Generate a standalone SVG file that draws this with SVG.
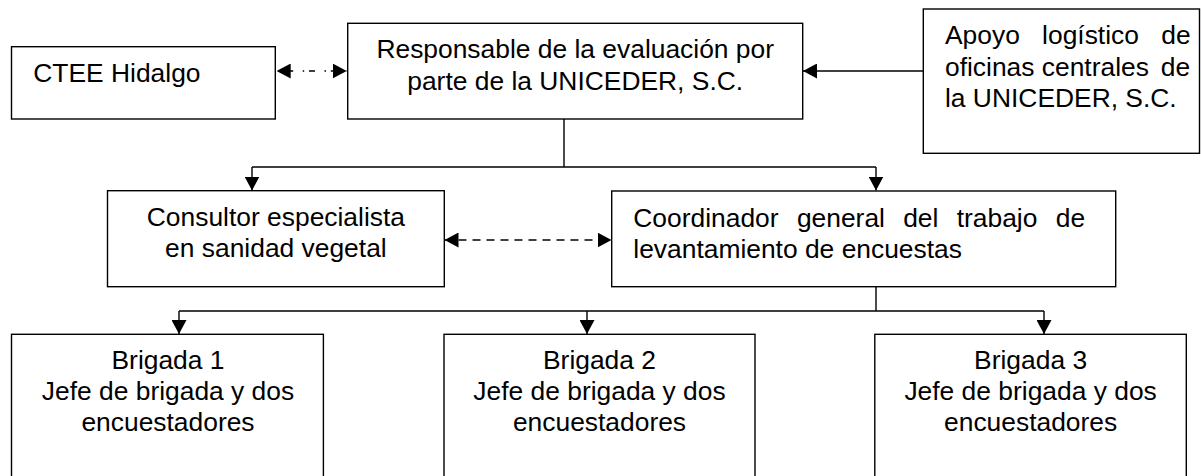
<svg xmlns="http://www.w3.org/2000/svg" width="1201" height="476" viewBox="0 0 1201 476">
<style>
  .box { fill: #ffffff; stroke: #000000; stroke-width: 1.4; }
  .t { font-family: "Liberation Sans", Arial, sans-serif; font-size: 26.4px; fill: #000000; }
  .c { text-anchor: middle; }
  .e { text-anchor: end; }
  .ln { fill: none; stroke: #000000; stroke-width: 1.4; }
  .dd { stroke-dasharray: 6 9.5 1.5 4.8; stroke-dashoffset: 11.3; }
  .ds { stroke-dasharray: 8 6; }
</style>
<defs>
  <marker id="ah" viewBox="0 0 14 15" refX="14" refY="7.5" markerWidth="14" markerHeight="15" markerUnits="userSpaceOnUse" orient="auto-start-reverse">
    <path d="M0,0 L14,7.5 L0,15 Z" fill="#000000"/>
  </marker>
</defs>
<rect width="1201" height="476" fill="#ffffff"/>

<g id="connectors">
  <path class="ln dd" d="M276.7,71 H346.7" marker-start="url(#ah)" marker-end="url(#ah)"/>
  <path class="ln" d="M923.3,71 H803" marker-end="url(#ah)"/>
  <path class="ln" d="M564,119 V167 M252,167 H876"/>
  <path class="ln" d="M252,167 V190.5" marker-end="url(#ah)"/>
  <path class="ln" d="M876,167 V190.5" marker-end="url(#ah)"/>
  <path class="ln ds" d="M444.5,240 H611.5" marker-start="url(#ah)" marker-end="url(#ah)"/>
  <path class="ln" d="M876,287 V311 M179,311 H1044"/>
  <path class="ln" d="M179,311 V334" marker-end="url(#ah)"/>
  <path class="ln" d="M587,311 V334" marker-end="url(#ah)"/>
  <path class="ln" d="M1044,311 V334" marker-end="url(#ah)"/>
</g>

<g id="ctee">
  <rect class="box" x="11.5" y="46.7" width="263.8" height="72.3"/>
  <text class="t" x="33.3" y="81.7">CTEE Hidalgo</text>
</g>

<g id="responsable">
  <rect class="box" x="347.7" y="23.3" width="455" height="95.7"/>
  <text class="t c" x="575.2" y="57.7">Responsable de la evaluación por</text>
  <text class="t c" x="575.2" y="90">parte de la UNICEDER, S.C.</text>
</g>

<g id="apoyo">
  <rect class="box" x="923.3" y="9" width="276.2" height="144.3"/>
  <text class="t" y="44.3"><tspan x="945">Apoyo</tspan><tspan x="1042.1">logístico</tspan></text>
  <text class="t e" x="1190.6" y="44.3">de</text>
  <text class="t" x="945" y="75.8">oficinas centrales</text>
  <text class="t e" x="1190.2" y="75.8">de</text>
  <text class="t" x="945" y="107.3">la UNICEDER, S.C.</text>
</g>

<g id="consultor">
  <rect class="box" x="107.5" y="190.7" width="336.8" height="96"/>
  <text class="t c" x="275.9" y="225.7">Consultor especialista</text>
  <text class="t c" x="275.9" y="257.2">en sanidad vegetal</text>
</g>

<g id="coordinador">
  <rect class="box" x="611.7" y="191" width="504" height="95.7"/>
  <text class="t" y="226.7"><tspan x="633.3">Coordinador</tspan><tspan x="796.9">general</tspan><tspan x="903.2">del</tspan><tspan x="956.7">trabajo</tspan></text>
  <text class="t e" x="1085.1" y="226.7">de</text>
  <text class="t" x="633.3" y="258.2">levantamiento de encuestas</text>
</g>

<g id="brigada1">
  <rect class="box" x="11.5" y="334.3" width="311.9" height="150"/>
  <text class="t c" x="168" y="369.3">Brigada 1</text>
  <text class="t c" x="168" y="400.3">Jefe de brigada y dos</text>
  <text class="t c" x="168" y="431.3">encuestadores</text>
</g>

<g id="brigada2">
  <rect class="box" x="444" y="334.3" width="311" height="150"/>
  <text class="t c" x="599.5" y="369.3">Brigada 2</text>
  <text class="t c" x="599.5" y="400.3">Jefe de brigada y dos</text>
  <text class="t c" x="599.5" y="431.3">encuestadores</text>
</g>

<g id="brigada3">
  <rect class="box" x="874.8" y="334.3" width="311.5" height="150"/>
  <text class="t c" x="1030.6" y="369.3">Brigada 3</text>
  <text class="t c" x="1030.6" y="400.3">Jefe de brigada y dos</text>
  <text class="t c" x="1030.6" y="431.3">encuestadores</text>
</g>
</svg>
